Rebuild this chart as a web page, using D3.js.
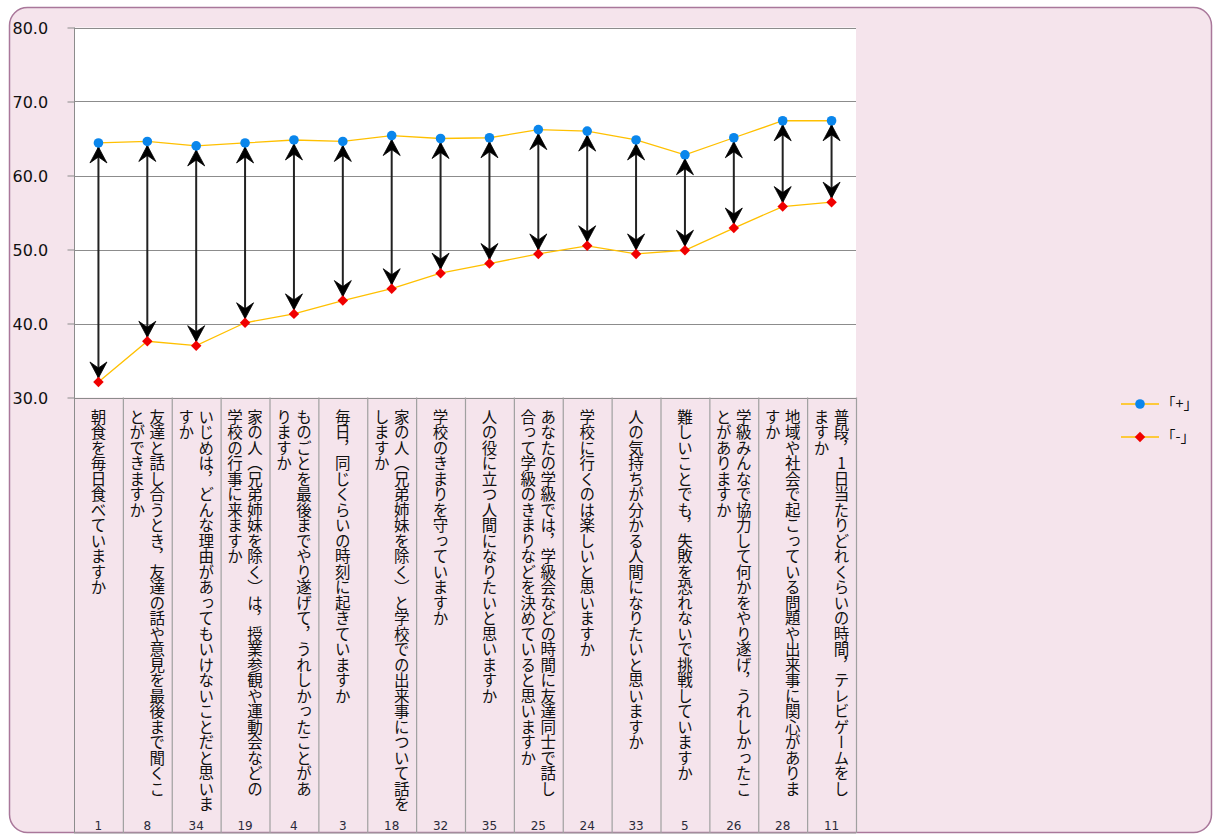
<!DOCTYPE html>
<html>
<head>
<meta charset="utf-8">
<script src="https://cdn.jsdelivr.net/npm/d3@7"></script>
<style>
  body { margin: 0; background: #fff; }
  .vlabel { writing-mode: vertical-rl; text-orientation: upright; }
</style>
</head>
<body>
<div class="container"></div>
<script>
// question numbers (bottom row)
const codes = ['1', '8', '34', '19', '4', '3', '18', '32', '35', '25', '24', '33', '5', '26', '28', '11'];

// 「+」 series
const plusValues = [64.4, 64.6, 64.0, 64.4, 64.8, 64.6, 65.4, 65.0, 65.1, 66.2, 66.0, 64.8, 62.8, 65.1, 67.4, 67.4];

// 「-」 series
const minusValues = [32.1, 37.6, 37.0, 40.1, 41.3, 43.1, 44.7, 46.8, 48.1, 49.4, 50.5, 49.4, 49.9, 52.9, 55.8, 56.4];

// question texts, one entry per column of vertical text
const questionLines = [
  ['朝食を毎日食べていますか'],
  ['友達と話し合うとき，友達の話や意見を最後まで聞くこ', 'とができますか'],
  ['いじめは，どんな理由があってもいけないことだと思いま', 'すか'],
  ['家の人（兄弟姉妹を除く）は，授業参観や運動会などの', '学校の行事に来ますか'],
  ['ものごとを最後までやり遂げて，うれしかったことがあ', 'りますか'],
  ['毎日，同じくらいの時刻に起きていますか'],
  ['家の人（兄弟姉妹を除く）と学校での出来事について話を', 'しますか'],
  ['学校のきまりを守っていますか'],
  ['人の役に立つ人間になりたいと思いますか'],
  ['あなたの学級では，学級会などの時間に友達同士で話し', '合って学級のきまりなどを決めていると思いますか'],
  ['学校に行くのは楽しいと思いますか'],
  ['人の気持ちが分かる人間になりたいと思いますか'],
  ['難しいことでも，失敗を恐れないで挑戦していますか'],
  ['学級みんなで協力して何かをやり遂げ，うれしかったこ', 'とがありますか'],
  ['地域や社会で起こっている問題や出来事に関心がありま', 'すか'],
  ['普段，1日当たりどれくらいの時間，テレビゲームをし', 'ますか']
];

const yTicks = [30, 40, 50, 60, 70, 80];
const seriesNames = ['「+」', '「-」'];

const width = 1218;
const height = 836;
const plotLeft = 74;
const plotRight = 856;
const plotTop = 27.5;
const plotBottom = 397.5;
const tableBottom = 833;

const lineColor = '#ffc000';
const plusColor = '#0a86ec';
const minusColor = '#f00000';

const svg = d3
  .select('.container')
  .append('svg')
  .attr('width', width)
  .attr('height', height);

// chart frame
svg
  .append('rect')
  .attr('x', 9.5)
  .attr('y', 7.5)
  .attr('width', 1202)
  .attr('height', 825)
  .attr('rx', 18)
  .attr('fill', '#f5e4ec')
  .attr('stroke', '#a9779a')
  .attr('stroke-width', 1.5);

const x = d3.scaleBand().domain(codes).range([plotLeft, plotRight]);
const y = d3.scaleLinear().domain([30, 80]).range([plotBottom, plotTop]);

const defs = svg.append('defs');
defs
  .append('marker')
  .attr('id', 'head')
  .attr('viewBox', '-18 -10 20 20')
  .attr('refX', 0)
  .attr('refY', 0)
  .attr('markerWidth', 20)
  .attr('markerHeight', 20)
  .attr('markerUnits', 'userSpaceOnUse')
  .attr('orient', 'auto-start-reverse')
  .append('path')
  .attr('d', 'M0,0 L-16,-8.5 L-10,0 L-16,8.5 Z')
  .attr('fill', '#000')
  .attr('stroke', '#000')
  .attr('stroke-width', 0.8)
  .attr('stroke-linejoin', 'miter');

// plot area
svg
  .append('rect')
  .attr('x', plotLeft)
  .attr('y', plotTop)
  .attr('width', plotRight - plotLeft)
  .attr('height', plotBottom - plotTop)
  .attr('fill', '#fff');

// gridlines
svg
  .append('g')
  .attr('class', 'grid')
  .selectAll('line')
  .data(yTicks)
  .enter()
  .append('line')
  .attr('x1', plotLeft)
  .attr('x2', plotRight)
  .attr('y1', d => Math.round(y(d)) + 0.5)
  .attr('y2', d => Math.round(y(d)) + 0.5)
  .attr('stroke', '#8c8c8c')
  .attr('stroke-width', 1);

// y axis
const yAxis = svg
  .append('g')
  .attr('class', 'y-axis')
  .attr('transform', `translate(${plotLeft + 0.5}, 0)`)
  .call(d3.axisLeft(y).tickValues(yTicks).tickSize(7).tickPadding(0).tickFormat(d3.format('.1f')));

yAxis.select('.domain').attr('stroke', '#8c8c8c').attr('d', `M0,${plotTop}V${tableBottom}`);
yAxis.selectAll('.tick line').attr('stroke', '#8c8c8c');
yAxis
  .selectAll('.tick text')
  .attr('x', 12 - plotLeft)
  .attr('text-anchor', 'start')
  .attr('dy', '0.35em')
  .attr('font-family', '"DejaVu Sans", Verdana, sans-serif')
  .attr('font-size', 16)
  .attr('fill', '#111');

// category table: column separators
const table = svg.append('g').attr('class', 'table');

table
  .selectAll('line.sep')
  .data(codes.slice(1).concat(['end']))
  .enter()
  .append('line')
  .attr('class', 'sep')
  .attr('x1', d => (d === 'end' ? plotRight : x(d)) + 0.5)
  .attr('x2', d => (d === 'end' ? plotRight : x(d)) + 0.5)
  .attr('y1', plotBottom)
  .attr('y2', tableBottom)
  .attr('stroke', '#a0a0a0')
  .attr('stroke-width', 1.2);

table
  .append('line')
  .attr('x1', plotLeft)
  .attr('x2', plotRight)
  .attr('y1', tableBottom)
  .attr('y2', tableBottom)
  .attr('stroke', '#a0a0a0');

// vertical question text
const colGap = 20;
codes.forEach((code, i) => {
  const lines = questionLines[i];
  const cx = x(code) + x.bandwidth() / 2;
  lines.forEach((line, j) => {
    table
      .append('text')
      .attr('class', 'vlabel')
      .attr('x', cx + ((lines.length - 1) / 2 - j) * colGap)
      .attr('y', 409)
      .attr('font-family', '"Noto Sans CJK JP", sans-serif')
      .attr('font-size', 15.5)
      .attr('fill', '#111')
      .text(line);
  });
});

// question numbers
table
  .selectAll('text.code')
  .data(codes)
  .enter()
  .append('text')
  .attr('class', 'code')
  .attr('x', d => x(d) + x.bandwidth() / 2)
  .attr('y', 830)
  .attr('text-anchor', 'middle')
  .attr('font-family', '"DejaVu Sans", Verdana, sans-serif')
  .attr('font-size', 12)
  .attr('fill', '#2a2a3a')
  .text(d => d);

// series lines
const line = d3
  .line()
  .x((d, i) => x(codes[i]) + x.bandwidth() / 2)
  .y(d => y(d));

svg
  .append('path')
  .datum(plusValues)
  .attr('d', line)
  .attr('fill', 'none')
  .attr('stroke', lineColor)
  .attr('stroke-width', 1.3);

svg
  .append('path')
  .datum(minusValues)
  .attr('d', line)
  .attr('fill', 'none')
  .attr('stroke', lineColor)
  .attr('stroke-width', 1.3);

// double-headed arrows between the two series
svg
  .append('g')
  .attr('class', 'arrows')
  .selectAll('line')
  .data(codes)
  .enter()
  .append('line')
  .attr('x1', d => x(d) + x.bandwidth() / 2)
  .attr('x2', d => x(d) + x.bandwidth() / 2)
  .attr('y1', (d, i) => y(plusValues[i]) + 4)
  .attr('y2', (d, i) => y(minusValues[i]) - 4)
  .attr('stroke', '#222')
  .attr('stroke-width', 2)
  .attr('marker-start', 'url(#head)')
  .attr('marker-end', 'url(#head)');

// markers
svg
  .append('g')
  .selectAll('circle')
  .data(plusValues)
  .enter()
  .append('circle')
  .attr('cx', (d, i) => x(codes[i]) + x.bandwidth() / 2)
  .attr('cy', d => y(d))
  .attr('r', 4.8)
  .attr('fill', plusColor);

const diamond = d3.symbol().type(d3.symbolDiamond2).size(70);

svg
  .append('g')
  .selectAll('path')
  .data(minusValues)
  .enter()
  .append('path')
  .attr('d', diamond)
  .attr('transform', (d, i) => `translate(${x(codes[i]) + x.bandwidth() / 2}, ${y(d)})`)
  .attr('fill', minusColor);

// legend
const legend = svg
  .append('g')
  .attr('class', 'legend')
  .selectAll('g')
  .data(seriesNames)
  .enter()
  .append('g')
  .attr('transform', (d, i) => `translate(1121, ${404 + i * 33})`);

legend
  .append('line')
  .attr('x1', 0)
  .attr('x2', 38)
  .attr('stroke', lineColor)
  .attr('stroke-width', 1.3);

legend
  .filter((d, i) => i === 0)
  .append('circle')
  .attr('cx', 19)
  .attr('r', 4.8)
  .attr('fill', plusColor);

legend
  .filter((d, i) => i === 1)
  .append('path')
  .attr('d', diamond)
  .attr('transform', 'translate(19, 0)')
  .attr('fill', minusColor);

legend
  .append('text')
  .attr('x', 40)
  .attr('dy', '0.35em')
  .attr('font-family', '"Noto Sans CJK JP", sans-serif')
  .attr('font-size', 14.5)
  .attr('fill', '#111')
  .text(d => d);
</script>
</body>
</html>
